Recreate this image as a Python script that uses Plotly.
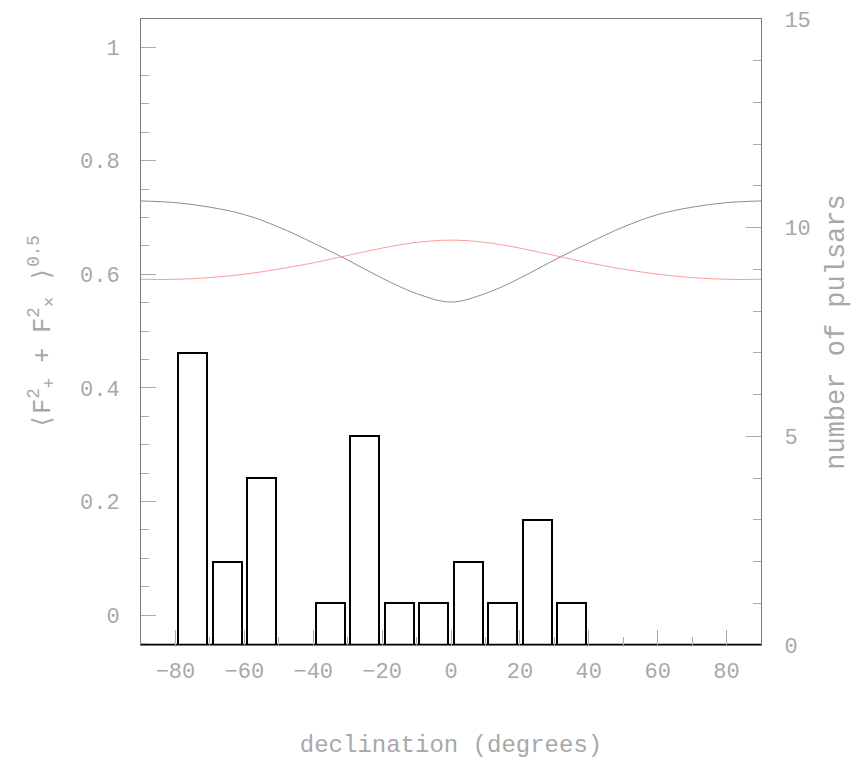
import plotly.graph_objects as go

# declination grid for the two antenna-pattern curves
dec = [-90, -80, -70, -60, -50, -40, -30, -20, -10, 0, 10, 20, 30, 40, 50, 60, 70, 80, 90]
gray_curve = [0.729, 0.726, 0.718, 0.705, 0.683, 0.655, 0.625, 0.593, 0.566, 0.551,
              0.566, 0.593, 0.625, 0.655, 0.683, 0.705, 0.718, 0.726, 0.729]
red_curve = [0.591, 0.591, 0.594, 0.600, 0.609, 0.620, 0.633, 0.646, 0.656, 0.660,
             0.656, 0.646, 0.633, 0.620, 0.609, 0.600, 0.594, 0.591, 0.591]

# histogram of pulsars per 10-degree declination bin
bin_centers = [-85, -75, -65, -55, -45, -35, -25, -15, -5, 5, 15, 25, 35, 45, 55, 65, 75, 85]
counts = [0, 7, 2, 4, 0, 1, 5, 1, 1, 2, 1, 3, 1, 0, 0, 0, 0, 0]

left_ticks = [0, 0.2, 0.4, 0.6, 0.8, 1]
right_ticks = [0, 5, 10, 15]
x_ticks = [-80, -60, -40, -20, 0, 20, 40, 60, 80]

FONT = "Liberation Mono, DejaVu Sans Mono, monospace"
TXT = "#a8a8a8"
AX = "#7a7a7a"

fig = go.Figure()

nz_x = [c for c, n in zip(bin_centers, counts) if n > 0]
nz_y = [n for n in counts if n > 0]
fig.add_trace(go.Bar(x=nz_x, y=nz_y, width=8.4, yaxis="y2",
                     marker=dict(color="rgba(255,255,255,0)", line=dict(color="black", width=2)),
                     showlegend=False))
fig.add_trace(go.Scatter(x=[-90, 90], y=[0, 0], yaxis="y2", mode="lines",
                         line=dict(color="black", width=2.5), cliponaxis=False, showlegend=False))

fig.add_trace(go.Scatter(x=dec, y=gray_curve, mode="lines", line=dict(color="#8c8c8c", width=1, shape="spline"),
                         showlegend=False))
fig.add_trace(go.Scatter(x=dec, y=red_curve, mode="lines", line=dict(color="#ff9a9a", width=1, shape="spline"),
                         showlegend=False))

fig.update_layout(
    width=852, height=761,
    margin=dict(l=141, r=91, t=19, b=116),
    paper_bgcolor="white", plot_bgcolor="white",
    font=dict(family=FONT, color=TXT, size=22),
    bargap=0,
    xaxis=dict(range=[-90, 90], tickvals=x_ticks, ticks="inside", ticklen=15, tickcolor="#aaaaaa",
               showline=True, linecolor=AX, linewidth=1, mirror=True, showgrid=False, zeroline=False,
               automargin=False,
               minor=dict(dtick=10, tick0=-90, ticks="inside", ticklen=8, tickcolor="#aaaaaa"),
               tickfont=dict(size=22, color=TXT), ticklabelstandoff=6,
               title=dict(text="declination (degrees)", font=dict(size=24, color=TXT), standoff=50)),
    yaxis=dict(range=[-0.0528, 1.0493], tickvals=left_ticks, ticktext=["0", "0.2", "0.4", "0.6", "0.8", "1"],
               ticks="inside", ticklen=15, tickcolor="#aaaaaa", automargin=False,
               showline=True, linecolor=AX, linewidth=1, showgrid=False, zeroline=False,
               minor=dict(dtick=0.05, tick0=0, ticks="inside", ticklen=8, tickcolor="#aaaaaa"),
               tickfont=dict(size=22, color=TXT), ticklabelstandoff=16,
               title=dict(text="⟨F<sup>2</sup><sub>+</sub> + F<sup>2</sup><sub>×</sub> ⟩<sup>0.5</sup>",
                          font=dict(size=25, color=TXT), standoff=22)),
    yaxis2=dict(range=[0, 15], overlaying="y", side="right", tickvals=right_ticks,
                ticks="inside", ticklen=15, tickcolor="#aaaaaa", automargin=False,
                showline=True, linecolor=AX, linewidth=1, showgrid=False, zeroline=False,
                minor=dict(dtick=1, tick0=0, ticks="inside", ticklen=8, tickcolor="#aaaaaa"),
                tickfont=dict(size=22, color=TXT), ticklabelstandoff=18,
                title=dict(text="number of pulsars", font=dict(size=27, color=TXT), standoff=20)),
)

fig.write_html("out.html")
